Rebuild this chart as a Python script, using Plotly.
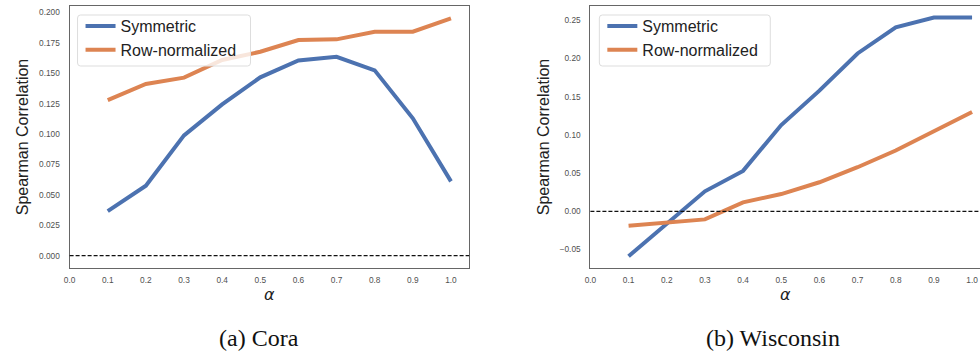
import plotly.graph_objects as go
from plotly.subplots import make_subplots

# alpha values shared by both panels
alpha = [0.1, 0.2, 0.3, 0.4, 0.5, 0.6, 0.7, 0.8, 0.9, 1.0]

# Spearman correlation, Cora
cora_symmetric = [0.0367, 0.0575, 0.0989, 0.1244, 0.1466, 0.1605, 0.1635, 0.1523, 0.1129, 0.0611]
cora_rownorm = [0.1279, 0.1411, 0.1463, 0.1608, 0.1676, 0.1772, 0.1778, 0.1841, 0.1841, 0.1951]

# Spearman correlation, Wisconsin
wisc_symmetric = [-0.0587, -0.0167, 0.0263, 0.0530, 0.1130, 0.1580, 0.2067, 0.2409, 0.2536, 0.2536]
wisc_rownorm = [-0.0189, -0.0145, -0.0105, 0.0118, 0.0227, 0.0381, 0.0578, 0.0796, 0.1046, 0.1301]

x_ticks = [0.0, 0.1, 0.2, 0.3, 0.4, 0.5, 0.6, 0.7, 0.8, 0.9, 1.0]
cora_y_ticks = [0.0, 0.025, 0.05, 0.075, 0.1, 0.125, 0.15, 0.175, 0.2]
wisc_y_ticks = [-0.05, 0.0, 0.05, 0.1, 0.15, 0.2, 0.25]

captions = ["(a) Cora", "(b) Wisconsin"]
series_names = ["Symmetric", "Row-normalized"]

BLUE = "#4C72B0"
ORANGE = "#DD8452"
W, H = 980, 351

fig = make_subplots(rows=1, cols=2)

panels = [
    (1, cora_symmetric, cora_rownorm, "legend"),
    (2, wisc_symmetric, wisc_rownorm, "legend2"),
]
for col, sym, row_norm, leg in panels:
    fig.add_trace(go.Scatter(x=alpha, y=sym, mode="lines", name=series_names[0],
                             line=dict(color=BLUE, width=4), legend=leg),
                  row=1, col=col)
    fig.add_trace(go.Scatter(x=alpha, y=row_norm, mode="lines", name=series_names[1],
                             line=dict(color=ORANGE, width=4), legend=leg),
                  row=1, col=col)

# panel placement in pixels
left_px = [(64, 466), (588, 980)]
top_px, bottom_px = 6, 268
y_dom = [1 - bottom_px / H, 1 - top_px / H]

axis_common = dict(
    showgrid=False, zeroline=False, showline=True, linecolor="#666666", linewidth=1.2,
    ticks="", tickfont=dict(family="Liberation Sans", size=8.3, color="#505050"),
)

fig.update_xaxes(**axis_common, tickvals=x_ticks, tickformat=".1f", ticklabelstandoff=4,
                 title=dict(text="<i>α</i>", font=dict(family="DejaVu Sans", size=16, color="#222222"),
                            standoff=4))
fig.update_yaxes(**axis_common, ticklabelstandoff=7,
                 title=dict(text="Spearman Correlation",
                            font=dict(family="Liberation Sans", size=16, color="#222222"),
                            standoff=6))

fig.update_layout(
    xaxis=dict(domain=[left_px[0][0] / W, left_px[0][1] / W], range=[0.0, 1.0477], mirror=True),
    yaxis=dict(domain=y_dom, range=[-0.0101, 0.2052], tickvals=cora_y_ticks, tickformat=".3f",
               mirror=True),
    xaxis2=dict(domain=[left_px[1][0] / W, 1.0], range=[0.0, 1.0208], mirror=True),
    yaxis2=dict(domain=y_dom, range=[-0.0741, 0.2688], tickvals=wisc_y_ticks, tickformat=".2f",
                mirror=False),
)

# dashed zero reference lines
for xr, yr in [("x", "y"), ("x2", "y2")]:
    fig.add_shape(type="line", xref=f"{xr} domain", yref=yr, x0=0, x1=1, y0=0, y1=0,
                  line=dict(color="#111111", width=1.2, dash="4px,2px"))

# legend frames (rounded boxes) and legends
legend_font = dict(family="Liberation Sans", size=16, color="#222222")
for key, (x0, x1) in [("legend", (72, 246)), ("legend2", (597, 769))]:
    y0, y1 = 15, 66
    r = 3
    X0, X1 = x0 / W, x1 / W
    Y0, Y1 = 1 - y1 / H, 1 - y0 / H
    rx, ry = r / W, r / H
    path = (f"M {X0 + rx},{Y0} L {X1 - rx},{Y0} Q {X1},{Y0} {X1},{Y0 + ry} "
            f"L {X1},{Y1 - ry} Q {X1},{Y1} {X1 - rx},{Y1} L {X0 + rx},{Y1} "
            f"Q {X0},{Y1} {X0},{Y1 - ry} L {X0},{Y0 + ry} Q {X0},{Y0} {X0 + rx},{Y0} Z")
    fig.add_shape(type="path", xref="paper", yref="paper", path=path,
                  line=dict(color="#DDDDDD", width=1), fillcolor="rgba(255,255,255,0.8)",
                  layer="above")
    fig.update_layout({key: dict(x=(x0 + 3) / W, y=1 - (y0 - 6) / H, xanchor="left", yanchor="top",
                                 bgcolor="rgba(0,0,0,0)", borderwidth=0, font=legend_font,
                                 itemwidth=30, tracegroupgap=0)})

# panel captions
for cap, (x0, x1) in zip(captions, [(64, 466), (588, 975)]):
    fig.add_annotation(text=cap, xref="paper", yref="paper", x=((x0 + x1) / 2 - 10) / W,
                       y=1 - 338 / H, xanchor="center", yanchor="middle", showarrow=False,
                       font=dict(family="Liberation Serif", size=24, color="#111111"))

fig.update_layout(
    width=W, height=H, margin=dict(l=0, r=0, t=0, b=0),
    paper_bgcolor="white", plot_bgcolor="white", showlegend=True,
)

fig.write_html("out.html")
